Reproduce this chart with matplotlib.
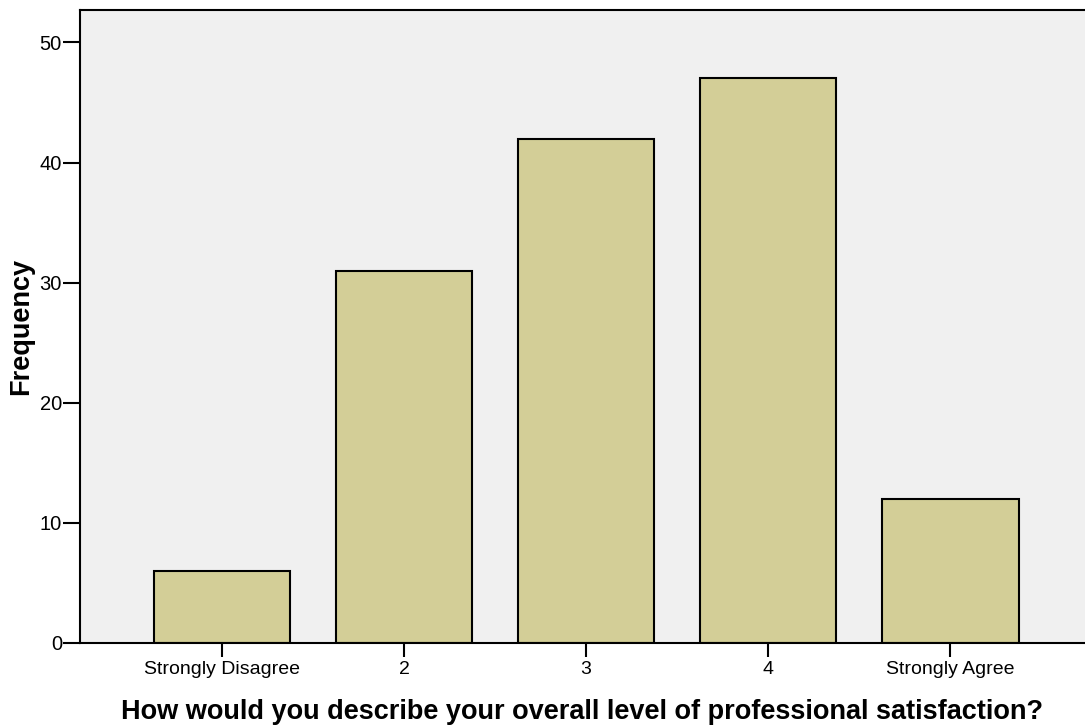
import numpy as np
import matplotlib.pyplot as plt

categories = ["Strongly Disagree", "2", "3", "4", "Strongly Agree"]
frequency = [6, 31, 42, 47, 12]
yticks = [0, 10, 20, 30, 40, 50]

plt.rcParams['font.family'] = ['Liberation Sans', 'DejaVu Sans']

fig = plt.figure(figsize=(10.85, 7.26), dpi=100)
# plot area in pixels: left 80, right 1085, top 10, bottom 643
ax = fig.add_axes([80 / 1085, (726 - 643) / 726, 1005 / 1085, 633 / 726])
ax.set_facecolor('#F0F0F0')

x = np.arange(len(categories))
ax.bar(x, frequency, width=0.75, color='#D3CE97', edgecolor='black', linewidth=1.5, zorder=2)

ax.set_xlim(-0.78, 4.74)
ax.set_ylim(0, 52.7)
ax.set_xticks(x)
ax.set_xticklabels(categories, fontsize=14)
ax.set_yticks(yticks)
ax.set_yticklabels([str(v) for v in yticks], fontsize=14.5)
ax.tick_params(axis='y', direction='out', length=12, width=1.5, pad=1)
ax.tick_params(axis='x', direction='out', length=10, width=1.5, pad=3)

for side in ['left', 'top', 'bottom']:
    ax.spines[side].set_linewidth(1.5)
ax.spines['right'].set_visible(False)

ax.set_ylabel('Frequency', fontsize=19.5, fontweight='bold', labelpad=4)
ax.set_xlabel('How would you describe your overall level of professional satisfaction?',
              fontsize=19.5, fontweight='bold', labelpad=15)

fig.savefig('out.png', dpi=100)
